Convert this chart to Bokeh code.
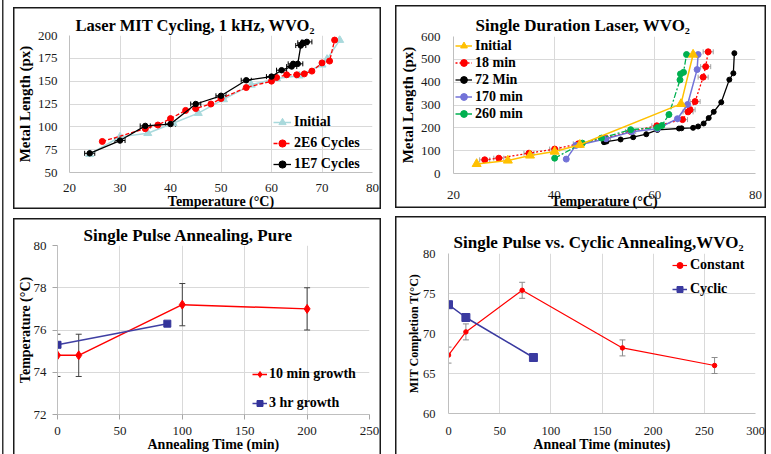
from bokeh.plotting import figure
from bokeh.models import ColumnDataSource, Whisker, TeeHead, Legend, LegendItem
from bokeh.layouts import column, row
from bokeh.embed import file_html
from bokeh.resources import INLINE

SERIF = "Liberation Serif"
GRID = "#d9d9d9"

# ---------------- Panel 1 data: Laser MIT Cycling ----------------
p1_title = "Laser MIT Cycling, 1 kHz, WVO\u2082"
p1_xticks = [20, 30, 40, 50, 60, 70, 80]
p1_yticks = [50, 75, 100, 125, 150, 175, 200]
p1_init_x = [24, 30, 35.5, 40.5, 45.5, 50.5, 56, 61, 65.5, 70, 71, 73.5]
p1_init_y = [70, 89, 93, 104, 115, 130, 146, 153, 156, 168, 174, 195]
p1_2e6_x = [26.5, 35, 37.5, 40, 43, 45, 48, 50, 55, 60, 61, 63, 65, 66.5, 68, 70, 71.5, 72.5]
p1_2e6_y = [84, 98, 102, 109, 118, 120, 125, 131, 143, 150, 154, 157, 157, 158, 161, 170, 172, 195]
p1_1e7_x = [24, 30, 35, 40, 45, 50, 55, 60, 62, 64, 64.3, 65.2, 65.8, 66.2, 67]
p1_1e7_y = [71, 85, 101, 103, 125, 134, 151, 155, 162, 166, 169, 169, 189, 192, 193]
p1_1e7_err = [1, 1, 1, 1, 1, 1, 1, 1, 1, 1, 1, 1, 1, 1, 1]

# ---------------- Panel 2 data: Single Duration Laser ----------------
p2_title = "Single Duration Laser, WVO\u2082"
p2_xticks = [20, 40, 60, 80]
p2_yticks = [0, 100, 200, 300, 400, 500, 600]
p2_init_x = [24.6, 30.8, 35.2, 40.1, 45.1, 65.2, 67.6]
p2_init_y = [42, 57, 79, 96, 126, 305, 521]
p2_18_x = [26.2, 29, 35, 40.1, 44.8, 50.2, 55.2, 60.4, 65.5, 66.6, 67, 68, 69.6, 70.1, 70.6]
p2_18_y = [60, 67, 89, 107, 130, 155, 184, 209, 236, 270, 279, 315, 422, 468, 533]
p2_18_err = [1, 1, 1, 1, 1, 1, 1, 1, 1, 1, 1, 1, 1, 1, 1]
p2_72_x = [49.9, 50.4, 53.2, 55.7, 58.3, 60.5, 64.8, 65.3, 67.6, 68.6, 69.7, 70.7, 71.7, 73.2, 74.8, 75.6, 75.8]
p2_72_y = [137, 140, 149, 159, 172, 191, 197, 198, 200, 206, 219, 243, 270, 312, 411, 439, 527]
p2_170_x = [42.4, 44.3, 45.3, 50.3, 55.4, 60.5, 64.5, 66.5, 68.4, 68.6]
p2_170_y = [63, 123, 127, 152, 183, 196, 240, 302, 455, 521]
p2_260_x = [40.1, 45.6, 49.4, 55.2, 60.5, 61.4, 62.8, 65, 65.1, 65.7, 66.3]
p2_260_y = [67, 133, 155, 192, 201, 210, 258, 410, 436, 443, 521]

# ---------------- Panel 3 data: Single Pulse Annealing, Pure ----------------
p3_title = "Single Pulse Annealing, Pure"
p3_xticks = [0, 50, 100, 150, 200, 250]
p3_yticks = [72, 74, 76, 78, 80]
p3_10_x = [0, 17, 100, 200]
p3_10_y = [74.8, 74.8, 77.2, 77.0]
p3_10_err = [1, 1, 1, 1]
p3_3h_x = [0, 88]
p3_3h_y = [75.3, 76.3]

# ---------------- Panel 4 data: Single Pulse vs Cyclic ----------------
p4_title = "Single Pulse vs. Cyclic Annealing,WVO\u2082"
p4_xticks = [0, 50, 100, 150, 200, 250, 300]
p4_yticks = [60, 65, 70, 75, 80]
p4_const_x = [0, 17, 72, 170, 260]
p4_const_y = [67.3, 70.2, 75.4, 68.2, 66.0]
p4_const_err = [1, 1, 1, 1, 1]
p4_cyc_x = [0, 17, 83]
p4_cyc_y = [73.6, 72.0, 67.0]


def box_shadow(top_band, bottom_band, closed):
    ink = "#1a1a1a"
    parts = []
    if top_band:
        parts.append(f"inset 0 {top_band}px 0 0 #ffffff")
    if bottom_band:
        parts.append(f"inset 0 -{bottom_band}px 0 0 #ffffff")
    parts.append(f"inset 0 {top_band + 1.5}px 0 0 {ink}")
    if closed:
        parts.append(f"inset 0 -{bottom_band + 1.5}px 0 0 {ink}")
    parts.append(f"inset 1.5px 0 0 0 {ink}")
    parts.append(f"inset -1.5px 0 0 0 {ink}")
    return ", ".join(parts)


def make_fig(w, h, borders, xr, yr, xt, yt, xlab, ylab, xl_size, yl_size, tick_size,
             x_std, y_std, xl_std, yl_std, tick_out, shadow, title, t_size, t_off, t_std):
    bl, br, bt, bb = borders
    p = figure(width=w, height=h, x_range=xr, y_range=yr, output_backend="svg",
               toolbar_location=None, min_border_left=bl, min_border_right=br,
               min_border_top=bt, min_border_bottom=bb)
    p.border_fill_color = None
    p.background_fill_color = "white"
    p.outline_line_color = None
    p.title.text = title
    p.title.align = "left"
    p.title.offset = t_off
    p.title.standoff = t_std
    p.title.text_font = SERIF
    p.title.text_font_size = t_size
    p.title.text_font_style = "bold"
    p.title.text_color = "black"
    p.xaxis.ticker = xt
    p.yaxis.ticker = yt
    p.grid.grid_line_color = GRID
    p.grid.grid_line_width = 1
    for ax, lab, lsz, std, lstd in ((p.xaxis[0], xlab, xl_size, x_std, xl_std),
                                    (p.yaxis[0], ylab, yl_size, y_std, yl_std)):
        ax.axis_label = lab
        ax.axis_line_color = "#bfbfbf"
        ax.major_tick_out = tick_out
        ax.major_tick_in = 0
        ax.minor_tick_out = 0
        ax.minor_tick_in = 0
        ax.major_tick_line_color = "#a6a6a6"
        ax.major_label_text_font = SERIF
        ax.major_label_text_font_size = tick_size
        ax.major_label_text_color = "#1a1a1a"
        ax.major_label_standoff = std
        ax.axis_label_text_font = SERIF
        ax.axis_label_text_font_style = "bold"
        ax.axis_label_text_font_size = lsz
        ax.axis_label_text_color = "black"
        ax.axis_label_standoff = lstd
    p.styles = {"box-shadow": shadow}
    return p


def add_legend(p, items, loc, gw, gh, lh, sp, standoff):
    lg = Legend(items=[LegendItem(label=l, renderers=r) for l, r in items], location=loc,
                padding=0, margin=0, spacing=sp, glyph_width=gw, glyph_height=gh,
                label_height=lh, label_standoff=standoff, background_fill_alpha=0,
                border_line_color=None, label_text_font=SERIF, label_text_font_size="14px",
                label_text_font_style="bold", label_text_color="black")
    p.add_layout(lg)


def whisker(p, src, base, dim, color, size):
    p.add_layout(Whisker(source=src, base=base, lower="lo", upper="hi", dimension=dim,
                         line_color=color, line_width=1,
                         upper_head=TeeHead(size=size, line_color=color, line_width=1),
                         lower_head=TeeHead(size=size, line_color=color, line_width=1)))


# ---------------- Panel 1 ----------------
p1 = make_fig(368, 211, (54, 9, 34, 40), (20, 80), (50, 200), p1_xticks, p1_yticks,
              "Temperature (\u00b0C)", "Metal Length (px)", "14px", "15px", "13px",
              11, 12, -1, 2, 0, box_shadow(6, 3, True), p1_title, "16.5px", 6, 2)
c_init = "#a9d9dc"
r1a = p1.line(p1_init_x, p1_init_y, line_color=c_init, line_width=1.5)
r1b = p1.scatter(p1_init_x, p1_init_y, marker="triangle", size=8, color=c_init)
r2a = p1.line(p1_2e6_x, p1_2e6_y, line_color="#ff0000", line_width=1.3, line_dash="4 2")
r2b = p1.scatter(p1_2e6_x, p1_2e6_y, marker="circle", size=6, color="#ff0000")
src1 = ColumnDataSource(dict(y=p1_1e7_y, lo=[x - e for x, e in zip(p1_1e7_x, p1_1e7_err)],
                             hi=[x + e for x, e in zip(p1_1e7_x, p1_1e7_err)]))
whisker(p1, src1, "y", "width", "black", 5)
r3a = p1.line(p1_1e7_x, p1_1e7_y, line_color="black", line_width=1.3)
r3b = p1.scatter(p1_1e7_x, p1_1e7_y, marker="circle", size=5.5, color="black")
add_legend(p1, [("Initial", [r1a, r1b]), ("2E6 Cycles", [r2a, r2b]), ("1E7 Cycles", [r3a, r3b])],
           (204, -2), 18, 20, 20, 1, 3)

# ---------------- Panel 2 ----------------
p2 = make_fig(371, 211, (58, 11, 35, 39), (20, 80), (0, 600), p2_xticks, p2_yticks,
              "Temperature (\u00b0C)", "Metal Length (px)", "14px", "15px", "13px",
              17, 13, -8, 2, 0, box_shadow(4, 4, True), p2_title, "17px", 22, 4)
src2 = ColumnDataSource(dict(y=p2_18_y, lo=[x - e for x, e in zip(p2_18_x, p2_18_err)],
                             hi=[x + e for x, e in zip(p2_18_x, p2_18_err)]))
whisker(p2, src2, "y", "width", "#a0a0a0", 5)
s72a = p2.line(p2_72_x, p2_72_y, line_color="black", line_width=1.3)
s72b = p2.scatter(p2_72_x, p2_72_y, marker="circle", size=5, color="black")
s18a = p2.line(p2_18_x, p2_18_y, line_color="#ff0000", line_width=1.3, line_dash="2 2")
s18b = p2.scatter(p2_18_x, p2_18_y, marker="circle", size=6, color="#ff0000")
s170a = p2.line(p2_170_x, p2_170_y, line_color="#7272d8", line_width=1.5)
s170b = p2.scatter(p2_170_x, p2_170_y, marker="circle", size=6, color="#7272d8")
s260a = p2.line(p2_260_x, p2_260_y, line_color="#00b050", line_width=1.3, line_dash="6 2 2 2")
s260b = p2.scatter(p2_260_x, p2_260_y, marker="circle", size=6, color="#00b050")
siA = p2.line(p2_init_x, p2_init_y, line_color="#ffc000", line_width=1.5)
siB = p2.scatter(p2_init_x, p2_init_y, marker="triangle", size=9, color="#ffc000")
add_legend(p2, [("Initial", [siA, siB]), ("18 min", [s18a, s18b]), ("72 Min", [s72a, s72b]),
                ("170 min", [s170a, s170b]), ("260 min", [s260a, s260b])],
           (2, 51), 17, 17, 17, 0, 3)

# ---------------- Panel 3 ----------------
p3 = make_fig(368, 242, (44, 12, 33, 39), (0, 250), (72, 80), p3_xticks, p3_yticks,
              "Annealing Time (min)", "Temperature (\u00b0C)", "14px", "14px", "13px",
              7, 6, -1, -2, 5, box_shadow(6, 0, False), p3_title, "17px", 26, 1)
src3 = ColumnDataSource(dict(x=p3_10_x, lo=[y - e for y, e in zip(p3_10_y, p3_10_err)],
                             hi=[y + e for y, e in zip(p3_10_y, p3_10_err)]))
whisker(p3, src3, "x", "height", "#404040", 6)
q1a = p3.line(p3_10_x, p3_10_y, line_color="#ff0000", line_width=1.5)
q1b = p3.scatter(p3_10_x, p3_10_y, marker="diamond", size=9, color="#ff0000")
q2a = p3.line(p3_3h_x, p3_3h_y, line_color="#3f3fa3", line_width=1.5)
q2b = p3.scatter(p3_3h_x, p3_3h_y, marker="square", size=7, color="#33339a")
add_legend(p3, [("10 min growth", [q1a, q1b]), ("3 hr growth", [q2a, q2b])],
           (195, 1), 15, 20, 20, 9, 2)

# ---------------- Panel 4 ----------------
p4 = make_fig(371, 238, (53, 11, 37, 40), (0, 300), (60, 80), p4_xticks, p4_yticks,
              "Anneal Time (minutes)", "MIT Completion T(\u00b0C)", "14px", "12px", "12.5px",
              13, 13, -1, -1, 0, box_shadow(0, 0, False), p4_title, "17px", 5, 4)
src4 = ColumnDataSource(dict(x=p4_const_x, lo=[y - e for y, e in zip(p4_const_y, p4_const_err)],
                             hi=[y + e for y, e in zip(p4_const_y, p4_const_err)]))
whisker(p4, src4, "x", "height", "#8c8c8c", 6)
w1a = p4.line(p4_const_x, p4_const_y, line_color="#ff0000", line_width=1.2)
w1b = p4.scatter(p4_const_x, p4_const_y, marker="circle", size=4.5, color="#ff0000")
w2a = p4.line(p4_cyc_x, p4_cyc_y, line_color="#3a3aa0", line_width=1.5)
w2b = p4.scatter(p4_cyc_x, p4_cyc_y, marker="square", size=8, color="#3a3aa0")
add_legend(p4, [("Constant", [w1a, w1b]), ("Cyclic", [w2a, w2b])],
           (224, 114), 15, 20, 20, 4, 3)

p1.margin = (1, 0, 0, 13)
p2.margin = (1, 0, 0, 14)
p3.margin = (0, 0, 0, 13)
p4.margin = (4, 0, 0, 14)

layout = column(row(column(p1), column(p2)), row(column(p3), column(p4)))
layout.styles = {"box-shadow": "inset 2px 0 0 0 #ffffff, inset 3.5px 0 0 0 #333333"}
open("out.html", "w").write(file_html(layout, INLINE))
